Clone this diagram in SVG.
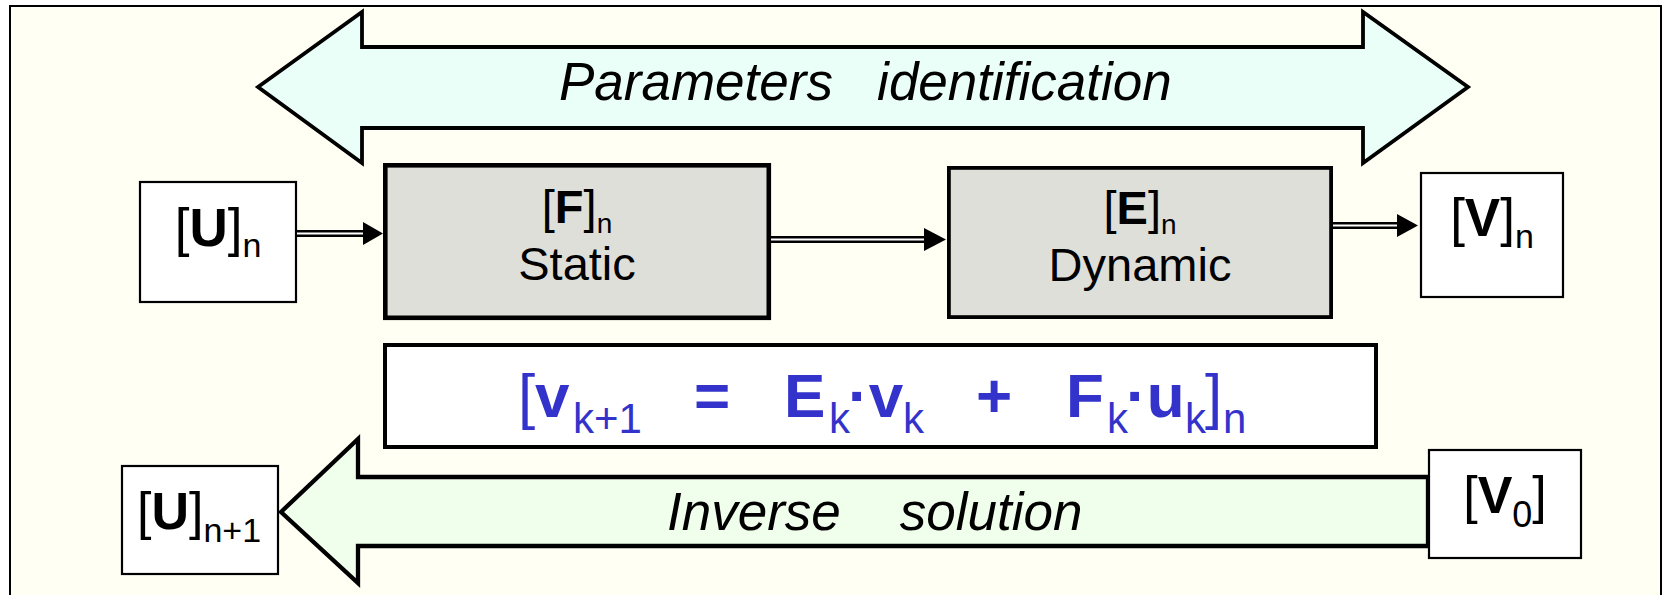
<svg xmlns="http://www.w3.org/2000/svg" width="1665" height="595" viewBox="0 0 1665 595">
  <defs>
    <style>
      .t { font-family: "Liberation Sans", Arial, sans-serif; fill: #000; }
      .it { font-style: italic; }
      .b { font-weight: bold; }
      .box { fill: #fff; stroke: #000; stroke-width: 2.2; }
      .gray { fill: #dfdfda; stroke: #000; }
      .eq { font-family: "Liberation Sans", Arial, sans-serif; fill: #3333cc; }
      .dbl-out { stroke: #000; stroke-width: 7; fill: none; }
      .dbl-in { stroke: #fff; stroke-width: 2; fill: none; }
      .head { fill: #000; }
    </style>
  </defs>

  <!-- page and frame -->
  <rect x="0" y="0" width="1665" height="595" fill="#ffffff"/>
  <rect x="10" y="6" width="1651" height="600" fill="#fffff4"/>
  <path d="M10,600 V6 H1661 V600" fill="none" stroke="#000" stroke-width="2"/>

  <!-- two-way arrow: parameters identification -->
  <g id="param-ident">
    <polygon points="258,87 362,12 362,47 1363,47 1363,12 1468,87 1363,163 1363,128 362,128 362,163" fill="#ebfff9" stroke="#000" stroke-width="3.8" stroke-linejoin="miter"/>
    <text class="t it" x="559" y="100" font-size="53" xml:space="preserve">Parameters   identification</text>
  </g>

  <!-- inverse solution arrow -->
  <g id="inverse-solution">
    <polygon points="281,512 358,439 358,477 1428,477 1428,546 358,546 358,583" fill="#f0ffec" stroke="#000" stroke-width="4.3"/>
    <text class="t it" x="667" y="530" font-size="53" xml:space="preserve">Inverse    solution</text>
  </g>

  <!-- input U_n -->
  <g id="u-n">
    <rect class="box" x="140" y="182" width="156" height="120"/>
    <text class="t" x="218" y="246" font-size="53" text-anchor="middle">[<tspan class="b">U</tspan>]<tspan font-size="34" dy="11">n</tspan></text>
  </g>

  <!-- static block F -->
  <g id="f-static">
    <rect class="gray" x="385.3" y="165.3" width="383.5" height="152.5" stroke-width="4.6"/>
    <text class="t" x="577" y="223" font-size="47" text-anchor="middle">[<tspan class="b">F</tspan>]<tspan font-size="28" dy="10">n</tspan></text>
    <text class="t" x="577" y="280" font-size="47" text-anchor="middle">Static</text>
  </g>

  <!-- dynamic block E -->
  <g id="e-dynamic">
    <rect class="gray" x="948.9" y="167.9" width="382.2" height="149.2" stroke-width="3.8"/>
    <text class="t" x="1140" y="224" font-size="47" text-anchor="middle">[<tspan class="b">E</tspan>]<tspan font-size="28" dy="10">n</tspan></text>
    <text class="t" x="1140" y="281" font-size="47" text-anchor="middle">Dynamic</text>
  </g>

  <!-- output V_n -->
  <g id="v-n">
    <rect class="box" x="1421" y="173" width="142" height="124"/>
    <text class="t" x="1492" y="236" font-size="53" text-anchor="middle">[<tspan class="b">V</tspan>]<tspan font-size="34" dy="12">n</tspan></text>
  </g>

  <!-- state equation -->
  <g id="state-eq">
    <rect x="385" y="345" width="991" height="102" fill="#fff" stroke="#000" stroke-width="4"/>
    <text class="eq" font-size="62" y="417">
      <tspan x="518">[</tspan><tspan x="535" class="b">v</tspan><tspan x="573" y="433" font-size="42">k+1</tspan><tspan x="694" y="417" class="b">=</tspan><tspan x="784" class="b">E</tspan><tspan x="829" y="433" font-size="42">k</tspan><tspan x="848" y="417" class="b">·v</tspan><tspan x="903" y="433" font-size="42">k</tspan><tspan x="976" y="417" class="b">+</tspan><tspan x="1066" class="b">F</tspan><tspan x="1107" y="433" font-size="42">k</tspan><tspan x="1126" y="417" class="b">·u</tspan><tspan x="1185" y="433" font-size="42">k</tspan><tspan x="1205" y="417">]</tspan><tspan x="1223" y="433" font-size="42">n</tspan>
    </text>
  </g>

  <!-- next input U_n+1 -->
  <g id="u-n1">
    <rect class="box" x="122" y="466" width="156" height="108"/>
    <text class="t" x="199" y="529" font-size="52" text-anchor="middle">[<tspan class="b">U</tspan>]<tspan font-size="34" dy="13">n+1</tspan></text>
  </g>

  <!-- initial state V_0 -->
  <g id="v-0">
    <rect class="box" x="1429" y="450" width="152" height="108"/>
    <text class="t" x="1505" y="513" font-size="52" text-anchor="middle">[<tspan class="b">V</tspan><tspan font-size="36" dy="14">0</tspan><tspan dy="-14">]</tspan></text>
  </g>

  <!-- connectors: double-line arrows -->
  <g id="connectors">
    <path class="dbl-out" d="M297,233.5 H364"/>
    <path class="dbl-in" d="M297,233.5 H366"/>
    <polygon class="head" points="363,222 383,233.5 363,245"/>

    <path class="dbl-out" d="M771,239.5 H925"/>
    <path class="dbl-in" d="M771,239.5 H927"/>
    <polygon class="head" points="924,228 946,239.5 924,251"/>

    <path class="dbl-out" d="M1333,225.5 H1398"/>
    <path class="dbl-in" d="M1333,225.5 H1400"/>
    <polygon class="head" points="1397,214 1418,225.5 1397,237"/>
  </g>
</svg>
